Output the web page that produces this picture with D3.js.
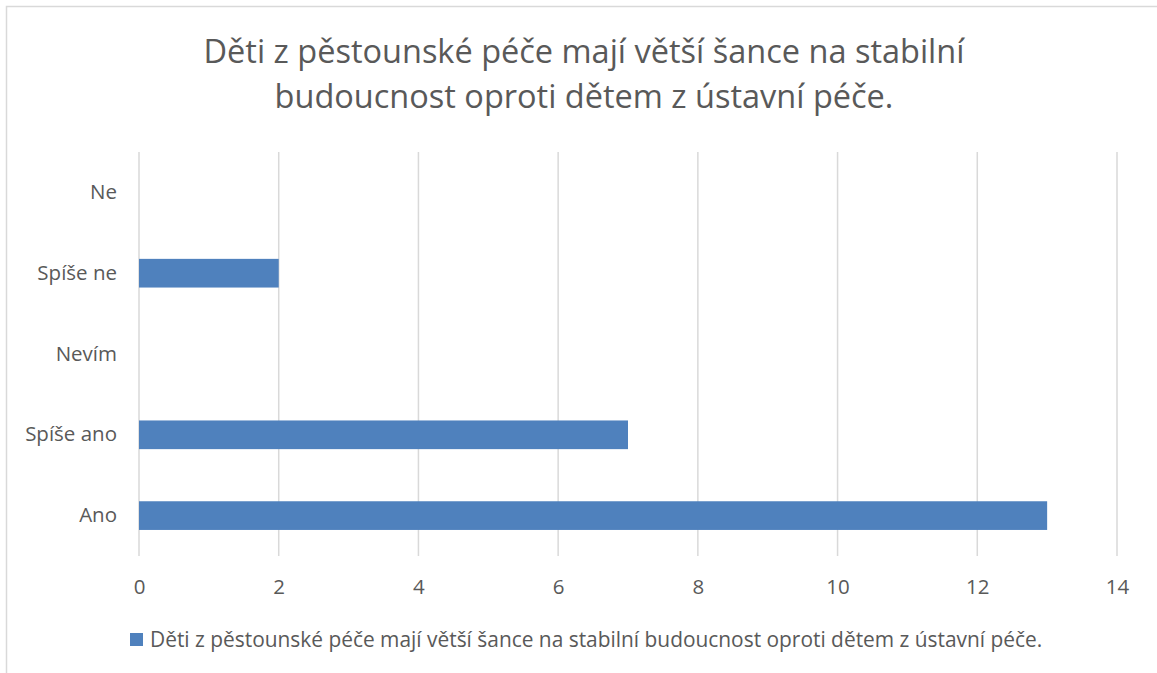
<!DOCTYPE html>
<html><head><meta charset="utf-8">
<script src="https://cdn.jsdelivr.net/npm/d3@7"></script>
<style>html,body{margin:0;padding:0;background:#fff;overflow:hidden}</style>
</head><body>
<svg id="c" width="1157" height="673"></svg>
<script>
const categories = ["Ano", "Spíše ano", "Nevím", "Spíše ne", "Ne"];
const values = [13, 7, 0, 2, 0];
const xTicks = [0, 2, 4, 6, 8, 10, 12, 14];
const titleLines = ["Děti z pěstounské péče mají větší šance na stabilní", "budoucnost oproti dětem z ústavní péče."];
const seriesName = "Děti z pěstounské péče mají větší šance na stabilní budoucnost oproti dětem z ústavní péče.";

(function () {
const svg = d3.select("#c");
const font = "'Open Sans', sans-serif";
const textCol = "#595959";
const barCol = "#4f81bd";

svg.append("rect").attr("x", 6.5).attr("y", 6.5).attr("width", 1170).attr("height", 690)
  .attr("fill", "#fff").attr("stroke", "#d9d9d9").attr("stroke-width", 1.5);

const pLeft = 139, pRight = 1117, pTop = 152, pBottom = 556;
const x = d3.scaleLinear().domain([0, 14]).range([pLeft, pRight]);
const y = d3.scaleBand().domain(categories.slice().reverse()).range([pTop, pBottom]).paddingInner(0.645).paddingOuter(0.3225);

// title
const t = svg.append("text").attr("text-anchor", "middle").attr("fill", textCol)
  .style("font-family", font).style("font-size", "32.5px");
titleLines.forEach((l, i) => t.append("tspan").attr("x", 584).attr("y", 63 + i * 45).text(l));

// gridlines
svg.append("g").selectAll("line").data(xTicks).join("line")
  .attr("x1", d => x(d)).attr("x2", d => x(d)).attr("y1", pTop).attr("y2", pBottom)
  .attr("stroke", "#d9d9d9").attr("stroke-width", 1.5);

// bars
svg.append("g").selectAll("rect").data(categories.map((c, i) => ({c, v: values[i]})).filter(d => d.v > 0)).join("rect")
  .attr("x", x(0)).attr("y", d => y(d.c)).attr("width", d => x(d.v) - x(0)).attr("height", y.bandwidth())
  .attr("fill", barCol);

// x axis labels
const xa = svg.append("g").attr("transform", `translate(0,${pBottom})`)
  .call(d3.axisBottom(x).tickValues(xTicks).tickSize(0).tickPadding(23).tickFormat(d3.format("d")));
xa.select(".domain").remove();
xa.selectAll("text").attr("fill", textCol).style("font-family", font).style("font-size", "20.5px");

// y axis labels
const ya = svg.append("g").attr("transform", `translate(${pLeft},0)`)
  .call(d3.axisLeft(y).tickSize(0).tickPadding(22));
ya.select(".domain").remove();
ya.selectAll("text").attr("fill", textCol).style("font-family", font).style("font-size", "20.5px");

// legend
svg.append("rect").attr("x", 130).attr("y", 633).attr("width", 13).attr("height", 13).attr("fill", barCol);
svg.append("text").attr("x", 150).attr("y", 647).attr("fill", textCol)
  .style("font-family", font).style("font-size", "20.9px").text(seriesName);
})();
</script>
</body></html>
